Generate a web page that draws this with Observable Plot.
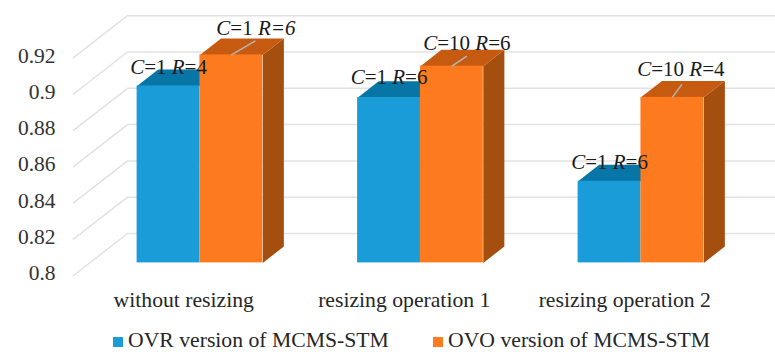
<!DOCTYPE html>
<html>
<head>
<meta charset="utf-8">
<script src="https://cdn.jsdelivr.net/npm/d3@7"></script>
<script src="https://cdn.jsdelivr.net/npm/@observablehq/plot@0.6"></script>
<style>
  html, body { margin: 0; padding: 0; background: #fff; }
  #chart { width: 775px; height: 352px; overflow: hidden; font-family: "Liberation Serif", serif; color: #262626; }
  #chart svg { display: block; }
  .legend { position: relative; height: 22px; font-size: 21.7px; line-height: 20px; white-space: nowrap; }
  .legend span { position: absolute; top: -0.5px; }
  .legend i { position: absolute; top: 7px; width: 10px; height: 10px; }
</style>
</head>
<body>
<div id="chart"></div>
<script>
// Accuracy of two MCMS-STM variants, with the best C and R parameters per condition.
const categories = ["without resizing", "resizing operation 1", "resizing operation 2"];
const ovrValues = [0.8975, 0.891, 0.845];
const ovoValues = [0.9146, 0.9084, 0.8912];
// Underscores mark the italic runs of each parameter label.
const ovrParams = ["_C_=1 _R_=4", "_C_=1 _R_=6", "_C_=1 _R_=6"];
const ovoParams = ["_C_=1 _R=6_", "_C_=10 _R_=6", "_C_=10 _R_=4"];
const yTicks = [0.8, 0.82, 0.84, 0.86, 0.88, 0.9, 0.92];
const seriesNames = ["OVR version of MCMS-STM", "OVO version of MCMS-STM"];

// Oblique projection: one depth unit moves this far along each scale.
const depthX = 54 / 220.5;
const depthY = 42 / 36.3 * 0.02;
const pxX = 1 / 220.5;
const pxY = 0.02 / 36.3;
const project = (x, v, d) => ({x: x + d * depthX, y: v + d * depthY});

const barFront = 0.3, barBack = 0.69, barWidth = 0.285;
const xMax = 702 / 220.5;
const base = yTicks[0];

const colors = {
  ovr: {front: "#1a9cd8", top: "#0776a6"},
  ovo: {front: "#fe7a1e", top: "#c65a11", side: "#a44e10"}
};
const font = '"Liberation Serif", serif';

// Each gridline runs up the floor from the front edge, then along the back wall.
const gridPoints = yTicks.flatMap((v) => [
  {...project(0, v, 0), v},
  {...project(0, v, 1), v},
  {x: xMax, y: v + depthY, v}
]);

function face(points, key) {
  return points.map(([x, v, d]) => ({...project(x, v, d), key}));
}

const bars = categories.flatMap((c, i) => {
  const mid = i + 0.5;
  return [
    {i, series: "ovr", value: ovrValues[i], x1: mid - barWidth, x2: mid},
    {i, series: "ovo", value: ovoValues[i], x1: mid, x2: mid + barWidth}
  ];
});

const topFaces = bars.flatMap((b) => face([
  [b.x1, b.value, barFront], [b.x2, b.value, barFront],
  [b.x2, b.value, barBack], [b.x1, b.value, barBack]
], b.series + b.i).map((p) => ({...p, series: b.series})));

const sideFaces = bars.filter((b) => b.series === "ovo").flatMap((b) => face([
  [b.x2, base, barFront], [b.x2, b.value, barFront],
  [b.x2, b.value, barBack], [b.x2, base, barBack]
], "side" + b.i));

const frontMark = (series) => Plot.rect(bars.filter((b) => b.series === series), {
  x1: (b) => project(b.x1, 0, barFront).x,
  x2: (b) => project(b.x2, 0, barFront).x,
  y1: () => project(0, base, barFront).y,
  y2: (b) => project(0, b.value, barFront).y,
  fill: colors[series].front
});

const topMark = (series) => Plot.line(topFaces.filter((p) => p.series === series), {
  x: "x", y: "y", z: "key", fill: colors[series].top, stroke: "none"
});

// Label placement, in pixels from the centre of each bar's top front edge.
const ovrOffsets = [[0, -19], [0, -20], [0, -19]];
const ovoOffsets = [[24.5, -27], [15, -23], [8.5, -28]];
const ovoLeader = [[24, -14], [15, -10], [9.5, -13]];

const plain = (s) => s.replace(/_/g, "");
const labelPoints = (series, values, params, offsets) => values.map((v, i) => {
  const b = bars.find((d) => d.series === series && d.i === i);
  const p = project((b.x1 + b.x2) / 2, v, barFront);
  return {x: p.x + offsets[i][0] * pxX, y: p.y - offsets[i][1] * pxY, label: plain(params[i])};
});

const ovoLinks = ovoValues.map((v, i) => {
  const p = project(i + 0.5 + barWidth / 2, v, barFront);
  return {x1: p.x, y1: p.y, x2: p.x + ovoLeader[i][0] * pxX, y2: p.y - ovoLeader[i][1] * pxY};
});

const labels = [
  ...labelPoints("ovr", ovrValues, ovrParams, ovrOffsets),
  ...labelPoints("ovo", ovoValues, ovoParams, ovoOffsets)
];

const plot = Plot.plot({
  width: 775,
  height: 330,
  marginLeft: 73,
  marginRight: 0,
  marginTop: 15,
  marginBottom: 55,
  style: {fontFamily: font, background: "#fff"},
  x: {type: "linear", domain: [0, xMax], axis: null},
  y: {type: "linear", domain: [base, base + 260 * pxY], axis: null},
  marks: [
    Plot.line(gridPoints, {x: "x", y: "y", z: "v", stroke: "#e2e2e2", strokeWidth: 1.5}),
    Plot.axisY({
      ticks: yTicks, tickFormat: (d) => String(d), tickSize: 0, tickPadding: 18, dy: -2,
      fontSize: 21.5, fill: "#333", label: null
    }),
    Plot.axisX({
      ticks: [0.5, 1.5, 2.5], tickFormat: (d) => categories[d - 0.5], tickSize: 0, tickPadding: 16,
      fontSize: 21.7, fill: "#262626", label: null
    }),
    topMark("ovr"),
    frontMark("ovr"),
    Plot.line(sideFaces, {x: "x", y: "y", z: "key", fill: colors.ovo.side, stroke: "none"}),
    topMark("ovo"),
    frontMark("ovo"),
    Plot.link(ovoLinks, {x1: "x1", y1: "y1", x2: "x2", y2: "y2", stroke: "#b5b5b5", strokeWidth: 1.5}),
    Plot.text(labels, {
      x: "x", y: "y", text: "label", fontSize: 21, fill: "#1a1a1a", className: "param-label"
    })
  ]
});

// Plot writes plain strings, so the italic runs are split into tspans here.
const markup = [...ovrParams, ...ovoParams];
plot.querySelectorAll(".param-label text").forEach((node, i) => {
  node.textContent = "";
  markup[i].split("_").forEach((run, j) => {
    if (!run) return;
    const span = document.createElementNS("http://www.w3.org/2000/svg", "tspan");
    if (j % 2) span.setAttribute("font-style", "italic");
    span.textContent = run;
    node.appendChild(span);
  });
});

const chart = document.getElementById("chart");
chart.appendChild(plot);

const legend = document.createElement("div");
legend.className = "legend";
const legendSpots = [[113, 128], [433, 448]];
seriesNames.forEach((name, i) => {
  const swatch = document.createElement("i");
  swatch.style.left = legendSpots[i][0] + "px";
  swatch.style.background = i ? colors.ovo.front : colors.ovr.front;
  const text = document.createElement("span");
  text.style.left = legendSpots[i][1] + "px";
  text.textContent = name;
  legend.append(swatch, text);
});
chart.appendChild(legend);
</script>
</body>
</html>
